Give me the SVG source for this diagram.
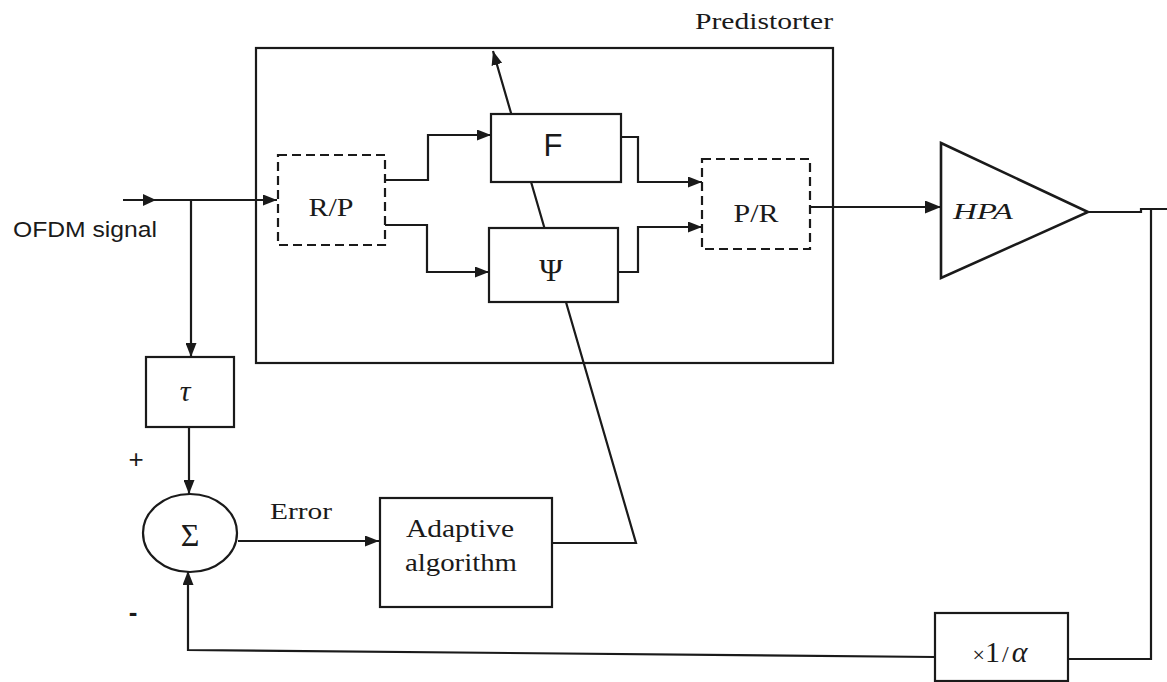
<svg xmlns="http://www.w3.org/2000/svg" width="1167" height="682" viewBox="0 0 1167 682">
<defs>
<marker id="ah" viewBox="0 0 14 11" refX="14" refY="5.5" markerWidth="14" markerHeight="11" markerUnits="userSpaceOnUse" orient="auto">
<path d="M0,0 L14,5.5 L0,11 Z" fill="#1a1a1a"/>
</marker>
<marker id="ahb" viewBox="0 0 16 13" refX="16" refY="6.5" markerWidth="16" markerHeight="13" markerUnits="userSpaceOnUse" orient="auto">
<path d="M0,0 L16,6.5 L0,13 Z" fill="#1a1a1a"/>
</marker>
<style>
.box{fill:#fff;stroke:#1a1a1a;stroke-width:2.2}
.dash{fill:#fff;stroke:#1a1a1a;stroke-width:2.2;stroke-dasharray:9 5}
.ln{fill:none;stroke:#1a1a1a;stroke-width:2.2}
.serif{font-family:"Liberation Serif","Times New Roman",serif;fill:#1a1a1a}
.sans{font-family:"Liberation Sans",Arial,sans-serif;fill:#1a1a1a}
</style>
</defs>
<rect width="1167" height="682" fill="#fff"/>

<g id="predistorter">
<rect x="256" y="48" width="577" height="315" fill="none" stroke="#1a1a1a" stroke-width="2.2"/>
<text class="serif" x="764" y="29" font-size="24" text-anchor="middle" textLength="138" lengthAdjust="spacingAndGlyphs">Predistorter</text>
</g>

<g id="connectors">
<!-- adaptive control line (drawn behind boxes) -->
<path class="ln" d="M552,543 H636 L493,51" marker-end="url(#ah)" stroke-width="2"/>
<!-- input -->
<path class="ln" d="M123,200 H277" marker-end="url(#ah)"/>
<path d="M143,194 L156,200 L143,206 Z" fill="#1a1a1a"/>
<path class="ln" d="M191,200 V357" marker-end="url(#ah)"/>
<!-- R/P to F and Psi -->
<path class="ln" d="M385,180 H428 V135 H491" marker-end="url(#ah)"/>
<path class="ln" d="M385,225 H427 V272 H489" marker-end="url(#ah)"/>
<!-- F and Psi to P/R -->
<path class="ln" d="M621,137 H638 V182 H702" marker-end="url(#ah)"/>
<path class="ln" d="M618,272 H638 V227 H702" marker-end="url(#ah)"/>
<!-- P/R to HPA -->
<path class="ln" d="M810,207 H941" stroke-width="3.5" marker-end="url(#ahb)"/>
<!-- HPA output and feedback -->
<path class="ln" d="M1088,212 H1141 V209 H1167"/>
<path class="ln" d="M1151,209 V659 H1068"/>
<path class="ln" d="M935,657 L188,650 V571" marker-end="url(#ah)"/>
<!-- tau to sigma -->
<path class="ln" d="M189,427 V494" marker-end="url(#ah)"/>
<!-- error -->
<path class="ln" d="M238,541 H379" marker-end="url(#ah)"/>
</g>

<g id="rp">
<rect class="dash" x="278" y="155" width="107" height="90"/>
<text class="serif" x="331" y="216" font-size="26" text-anchor="middle" textLength="45" lengthAdjust="spacingAndGlyphs">R/P</text>
</g>

<g id="f">
<rect class="box" x="491" y="114" width="130" height="68"/>
<text class="sans" x="553" y="156" font-size="31" text-anchor="middle">F</text>
</g>

<g id="psi">
<rect class="box" x="489" y="228" width="129" height="74"/>
<text class="serif" x="551" y="281" font-size="32" text-anchor="middle">Ψ</text>
</g>

<g id="pr">
<rect class="dash" x="702" y="159" width="108" height="90"/>
<text class="serif" x="756" y="222" font-size="26" text-anchor="middle" textLength="45" lengthAdjust="spacingAndGlyphs">P/R</text>
</g>

<g id="hpa">
<path d="M941,143 L1088,212 L941,278 Z" fill="#fff" stroke="#1a1a1a" stroke-width="2.6" stroke-linejoin="miter"/>
<text class="serif" x="983" y="219" font-size="24" font-style="italic" text-anchor="middle" textLength="60" lengthAdjust="spacingAndGlyphs">HPA</text>
</g>

<g id="ofdm-label">
<text class="sans" x="13" y="237" font-size="22" textLength="144" lengthAdjust="spacingAndGlyphs">OFDM signal</text>
</g>

<g id="tau">
<rect class="box" x="146" y="357" width="88" height="70"/>
<text class="serif" x="185" y="401" font-size="30" font-style="italic" text-anchor="middle">τ</text>
</g>

<g id="sigma">
<ellipse cx="190" cy="533" rx="47" ry="39" fill="#fff" stroke="#1a1a1a" stroke-width="2.2"/>
<text class="serif" x="190" y="546" font-size="32" text-anchor="middle">Σ</text>
<text class="sans" x="136" y="468" font-size="26" text-anchor="middle">+</text>
<text class="sans" x="133" y="621" font-size="26" font-weight="bold" text-anchor="middle">-</text>
</g>

<g id="error-label">
<text class="serif" x="301" y="519" font-size="24" text-anchor="middle" textLength="62" lengthAdjust="spacingAndGlyphs">Error</text>
</g>

<g id="adaptive">
<rect class="box" x="380" y="498" width="172" height="109"/>
<text class="serif" x="460" y="537" font-size="25" text-anchor="middle" textLength="108" lengthAdjust="spacingAndGlyphs">Adaptive</text>
<text class="serif" x="461" y="571" font-size="25" text-anchor="middle" textLength="112" lengthAdjust="spacingAndGlyphs">algorithm</text>
</g>

<g id="scale">
<rect class="box" x="935" y="613" width="133" height="68"/>
<text class="serif" x="1000" y="662" font-size="30" text-anchor="middle"><tspan font-size="22">×</tspan>1<tspan font-size="24" dx="2">/</tspan><tspan font-style="italic" dx="3">α</tspan></text>
</g>
</svg>
